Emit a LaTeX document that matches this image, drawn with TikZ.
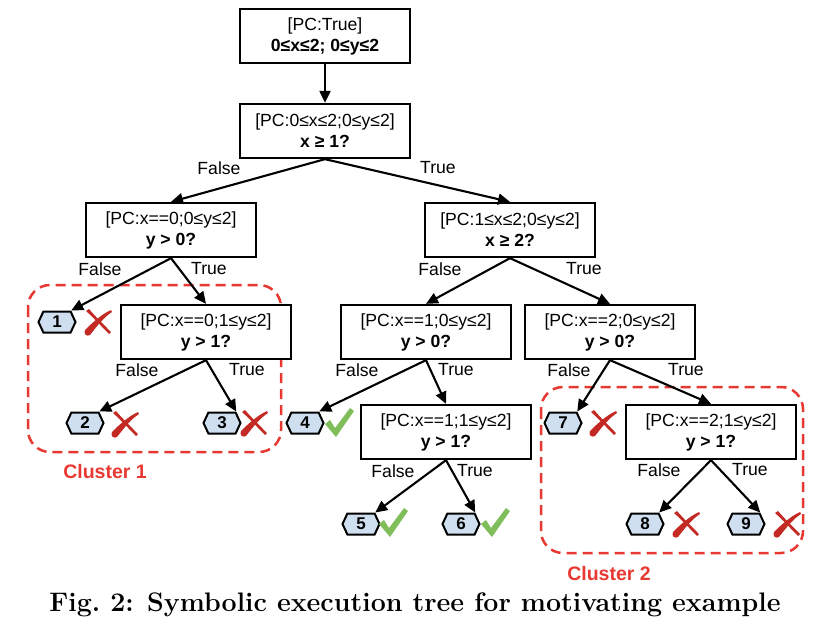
\documentclass[tikz,border=0pt]{standalone}
\usepackage{fontspec}
\newfontfamily\arial{Liberation Sans}
\usetikzlibrary{arrows.meta,shapes.symbols}
\definecolor{leafblue}{RGB}{207,223,240}
\definecolor{clusterred}{RGB}{232,56,50}
\definecolor{crossred}{RGB}{196,42,36}
\definecolor{checkgreen}{RGB}{128,190,92}
\tikzset{
	state/.style={draw, line width=2.3pt, fill=white, minimum width=170pt, minimum height=54pt, inner sep=2pt, align=center, font=\arial\fontsize{17.6}{21}\selectfont},
	leaf/.style={signal, signal to=west and east, signal pointer angle=130, draw, line width=2pt, fill=leafblue, minimum width=37pt, minimum height=21pt, inner sep=0pt, font=\arial\bfseries\fontsize{17}{18}\selectfont},
	branch/.style={font=\arial\fontsize{17.6}{20}\selectfont},
	edge/.style={line width=2.1pt, -{Triangle[length=12pt,width=11pt]}},
	cluster/.style={draw=clusterred, line width=2.5pt, dash pattern=on 10pt off 6pt, rounded corners=22pt},
	clusterlabel/.style={text=clusterred, font=\arial\bfseries\fontsize{19.5}{22}\selectfont},
	nope/.pic={
		\fill[crossred] (-12,-11) .. controls (-3,-3) and (4,5) .. (11,12) -- (13,10) .. controls (5,2) and (-3,-6) .. (-9,-13) -- cycle;
		\fill[crossred] (-13,8) .. controls (-15,12) and (-11,15) .. (-8,13) .. controls (-1,4) and (6,-5) .. (14,-10) -- (13,-12) .. controls (4,-8) and (-5,0) .. (-13,8) -- cycle;
	},
	okay/.pic={
		\fill[checkgreen] (-14,1) -- (-9,-3) -- (-4,5) -- (11,-15) -- (15,-12) -- (-3,14) -- cycle;
	}
}
\begin{document}
\begin{tikzpicture}[x=1pt, y=-1pt]
	\useasboundingbox (0,0) rectangle (829,630);
	% clusters behind the boxes
	\draw[cluster] (28,285) rectangle (281,452);
	\draw[cluster] (541,387) rectangle (803,553);
	\node[clusterlabel] (c1) at (105,472) {Cluster 1};
	\node[clusterlabel] (c2) at (609,574) {Cluster 2};
	% states
	\node[state] (b1) at (325,36) {[PC:True]\\\textbf{0≤x≤2; 0≤y≤2}};
	\node[state] (b2) at (325,131) {[PC:0≤x≤2;0≤y≤2]\\\textbf{x ≥ 1?}};
	\node[state] (b3) at (171,230) {[PC:x==0;0≤y≤2]\\\textbf{y > 0?}};
	\node[state] (b4) at (510,230) {[PC:1≤x≤2;0≤y≤2]\\\textbf{x ≥ 2?}};
	\node[state] (b5) at (206,332) {[PC:x==0;1≤y≤2]\\\textbf{y > 1?}};
	\node[state] (b6) at (426,332) {[PC:x==1;0≤y≤2]\\\textbf{y > 0?}};
	\node[state] (b7) at (610,332) {[PC:x==2;0≤y≤2]\\\textbf{y > 0?}};
	\node[state] (b8) at (446,432) {[PC:x==1;1≤y≤2]\\\textbf{y > 1?}};
	\node[state] (b9) at (711,432) {[PC:x==2;1≤y≤2]\\\textbf{y > 1?}};
	% leaves
	\foreach \n/\x/\y in {1/57/322, 2/85/423, 3/222/423, 4/305/423, 5/361/524, 6/461/524, 7/563/423, 8/645/524, 9/746/524}
		\node[leaf] (l\n) at (\x,\y) {\n};
	\foreach \n/\x/\y in {1/98/322, 2/125/424, 3/254/423, 7/603/423, 8/686/524, 9/787/524}
		\pic (m\n) at (\x,\y) {nope};
	\foreach \n/\x/\y in {4/339/423, 5/393/523, 6/495/523}
		\pic (m\n) at (\x,\y) {okay};
	% edges
	\draw[edge] (b1.south) -- (b2.north);
	\draw[edge] (b2.south) -- (b3.north);
	\draw[edge] (b2.south) -- (b4.north);
	\draw[edge] (b3.south) -- (l1.north east);
	\draw[edge] (b3.south) -- (b5.north);
	\draw[edge] (b4.south) -- (b6.north);
	\draw[edge] (b4.south) -- (b7.north);
	\draw[edge] (b5.south) -- (l2.north east);
	\draw[edge] (b5.south) -- (l3.north east);
	\draw[edge] (b6.south) -- (l4.north east);
	\draw[edge] (b6.south) -- (b8.north);
	\draw[edge] (b7.south) -- (l7.north east);
	\draw[edge] (b7.south) -- (b9.north);
	\draw[edge] (b8.south) -- (l5.north east);
	\draw[edge] (b8.south) -- (l6.north east);
	\draw[edge] (b9.south) -- (l8.north east);
	\draw[edge] (b9.south) -- (l9.north east);
	% branch labels
	\foreach \n/\fx/\fy/\tx/\ty in {2/219/168/438/168, 3/100/269/209/269, 4/440/269/584/269, 5/137/370/247/370, 6/357/370/456/370, 7/569/370/686/370, 8/393/471/475/471, 9/659/470/750/470} {
		\node[branch] (f\n) at (\fx,\fy) {False};
		\node[branch] (t\n) at (\tx,\ty) {True};
	}
	\node[font=\bfseries\fontsize{26.8}{30}\selectfont] (cap) at (415,605) {Fig.~2: Symbolic execution tree for motivating example};
\end{tikzpicture}
\end{document}
